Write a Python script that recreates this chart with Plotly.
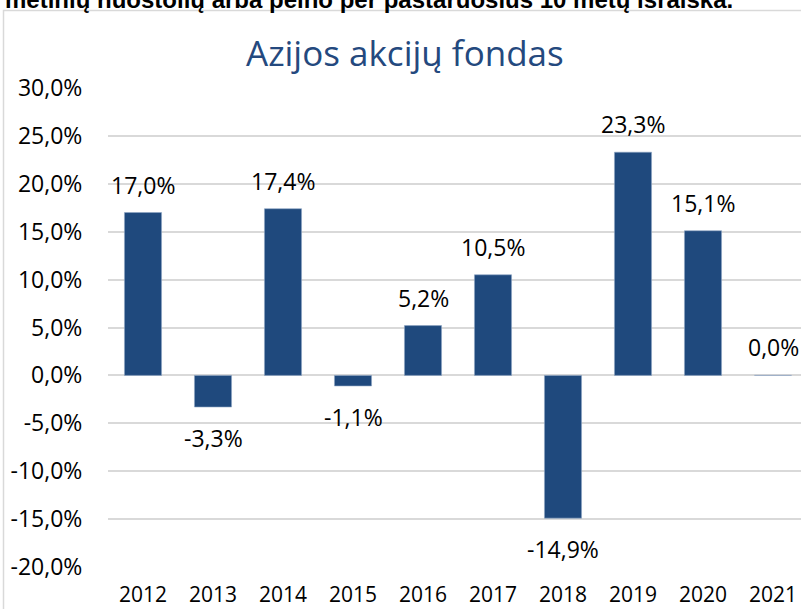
import plotly.graph_objects as go

# Annual returns of the Asian equity fund, in percent
years = ["2012", "2013", "2014", "2015", "2016", "2017", "2018", "2019", "2020", "2021"]
returns = [17.0, -3.3, 17.4, -1.1, 5.2, 10.5, -14.9, 23.3, 15.1, 0.0]
return_labels = ["17,0%", "-3,3%", "17,4%", "-1,1%", "5,2%", "10,5%", "-14,9%", "23,3%", "15,1%", "0,0%"]

y_ticks = [30, 25, 20, 15, 10, 5, 0, -5, -10, -15, -20]
y_tick_text = ["30,0%", "25,0%", "20,0%", "15,0%", "10,0%", "5,0%", "0,0%",
               "-5,0%", "-10,0%", "-15,0%", "-20,0%"]

title_text = "Azijos akcijų fondas"
header_text = "metinių nuostolių arba pelno per pastaruosius 10 metų išraiška."

W, H = 801, 609
ML, MR, MT, MB = 108, 0, 88, 42
plot_w = W - ML - MR
plot_h = H - MT - MB

bar_color = "#1F497D"
grid_color = "#D9D9D9"
label_font = dict(family="Open Sans, sans-serif", size=23, color="#000000")
xtick_font = dict(family="Open Sans, sans-serif", size=21, color="#000000")


def px_x(x):
    return (x - ML) / plot_w


def px_y(y):
    return (H - MB - y) / plot_h


fig = go.Figure()
fig.add_trace(go.Bar(
    x=list(range(len(years))),
    y=returns,
    marker=dict(color=bar_color, line=dict(color="#8FA6C4", width=0.6)),
    width=0.53,
    hoverinfo="skip",
))

# value labels placed just outside each bar end
for i, (v, t) in enumerate(zip(returns, return_labels)):
    fig.add_annotation(
        x=i, y=v, text=t, showarrow=False, font=label_font,
        yshift=(-31 if v < 0 else 28), xanchor="center", yanchor="middle",
    )

# chart frame
fig.add_shape(
    type="rect", xref="paper", yref="paper",
    x0=px_x(3.5), x1=px_x(W + 20),
    y0=px_y(H + 20), y1=px_y(10.5),
    line=dict(color="#D9D9D9", width=1.5), fillcolor="rgba(0,0,0,0)", layer="below",
)

# title
fig.add_annotation(
    xref="paper", yref="paper",
    x=px_x(405), y=px_y(53),
    text=title_text, showarrow=False, xanchor="center", yanchor="middle",
    font=dict(family="Open Sans, sans-serif", size=35, color="#24497E"),
)

# header line above the frame (runs off the top edge)
fig.add_annotation(
    xref="paper", yref="paper",
    x=px_x(3), y=px_y(15),
    text="<b>" + header_text + "</b>", showarrow=False, xanchor="left", yanchor="bottom",
    font=dict(family="Liberation Sans, Arial, sans-serif", size=24, color="#000000"),
)

fig.update_layout(
    width=W, height=H,
    margin=dict(l=ML, r=MR, t=MT, b=MB, pad=0, autoexpand=False),
    paper_bgcolor="white", plot_bgcolor="white",
    showlegend=False,
    xaxis=dict(
        range=[-0.5, 9.4], automargin=False,
        tickvals=list(range(len(years))), ticktext=years,
        tickfont=xtick_font, showgrid=False, zeroline=False, showline=False,
        ticks="outside", ticklen=9, tickcolor="rgba(0,0,0,0)",
    ),
    yaxis=dict(
        range=[-20, 30], automargin=False,
        tickvals=y_ticks, ticktext=y_tick_text,
        tickfont=label_font, showgrid=True, gridcolor=grid_color, gridwidth=1.5,
        zeroline=True, zerolinecolor=grid_color, zerolinewidth=1.5,
        showline=False, ticks="outside", ticklen=20, tickcolor="rgba(0,0,0,0)",
    ),
)

fig.write_html("out.html")
